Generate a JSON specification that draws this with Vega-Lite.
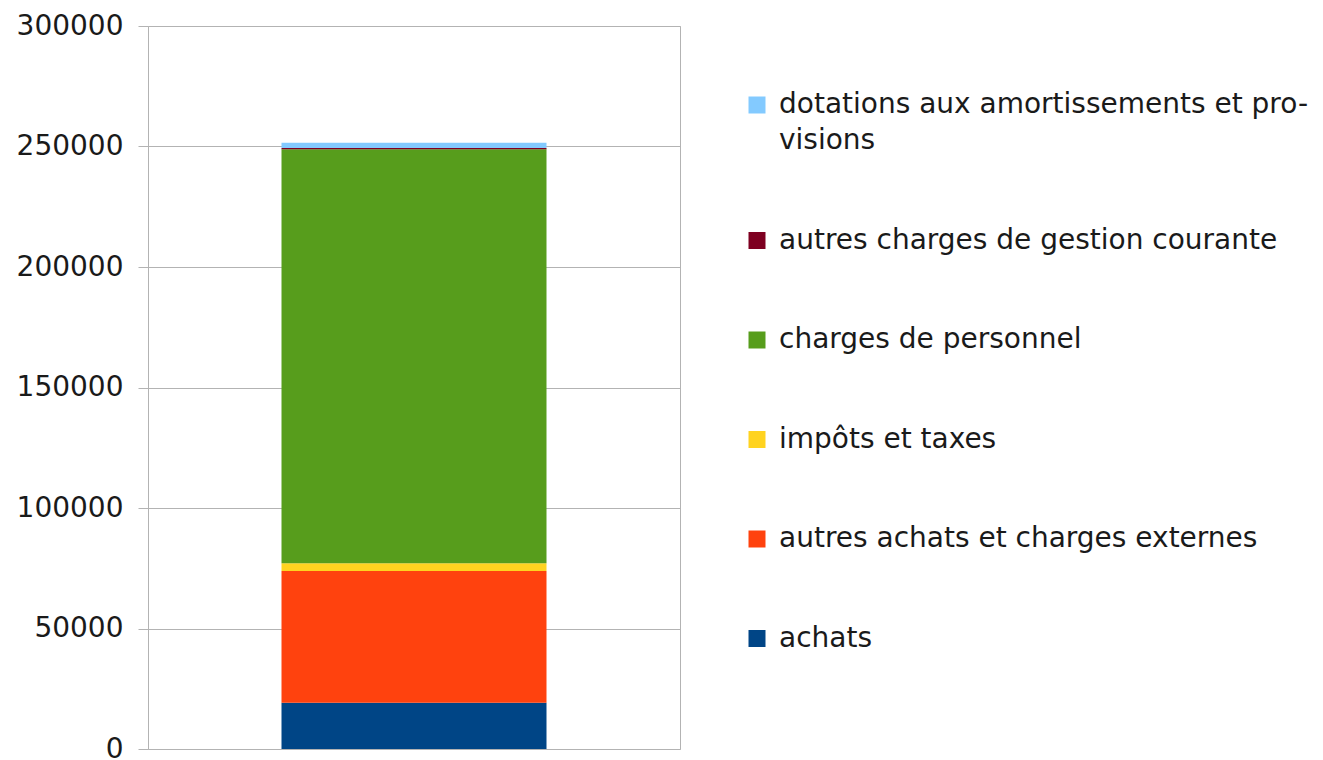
{
  "$schema": "https://vega.github.io/schema/vega-lite/v6.json",
  "width": 532,
  "height": 723,
  "padding": {"left": 16, "top": 12, "right": 5, "bottom": 0},
  "background": "white",
  "config": {
    "view": {"stroke": "#b3b3b3", "strokeWidth": 1},
    "font": "DejaVu Sans",
    "style": {"guide-label": {"lineHeight": 36}}
  },
  "data": {
    "values": [
      {"groupe": "charges", "poste": "achats", "rang": 1, "montant": 19200},
      {"groupe": "charges", "poste": "autres achats et charges externes", "rang": 2, "montant": 54700},
      {"groupe": "charges", "poste": "impôts et taxes", "rang": 3, "montant": 3200},
      {"groupe": "charges", "poste": "charges de personnel", "rang": 4, "montant": 171800},
      {"groupe": "charges", "poste": "autres charges de gestion courante", "rang": 5, "montant": 500},
      {"groupe": "charges", "poste": "dotations aux amortissements et provisions", "rang": 6, "montant": 2200}
    ]
  },
  "mark": {"type": "bar", "size": 265},
  "encoding": {
    "x": {"field": "groupe", "type": "nominal", "axis": null},
    "y": {
      "field": "montant",
      "type": "quantitative",
      "aggregate": "sum",
      "stack": "zero",
      "scale": {"domain": [0, 300000]},
      "axis": {
        "title": null,
        "values": [0, 50000, 100000, 150000, 200000, 250000, 300000],
        "format": "d",
        "labelFontSize": 28,
        "labelColor": "#1a1a1a",
        "labelPadding": 15,
        "tickSize": 10,
        "tickColor": "#b3b3b3",
        "gridColor": "#b3b3b3",
        "domain": false
      }
    },
    "order": {"field": "rang", "type": "quantitative", "sort": "ascending"},
    "color": {
      "field": "poste",
      "type": "nominal",
      "scale": {
        "domain": ["dotations aux amortissements et provisions", "autres charges de gestion courante", "charges de personnel", "impôts et taxes", "autres achats et charges externes", "achats"],
        "range": ["#83caff", "#7e0021", "#579d1c", "#ffd320", "#ff420e", "#004586"]
      },
      "legend": {
        "title": null,
        "orient": "none",
        "legendX": 595,
        "legendY": 65,
        "symbolType": "square",
        "symbolSize": 289,
        "symbolStrokeWidth": 0,
        "labelFontSize": 28,
        "labelColor": "#1a1a1a",
        "labelLimit": 600,
        "labelOffset": 8,
        "rowPadding": 71.5,
        "labelExpr": "datum.label == 'dotations aux amortissements et provisions' ? ['dotations aux amortissements et pro-', 'visions'] : datum.label"
      }
    }
  }
}
